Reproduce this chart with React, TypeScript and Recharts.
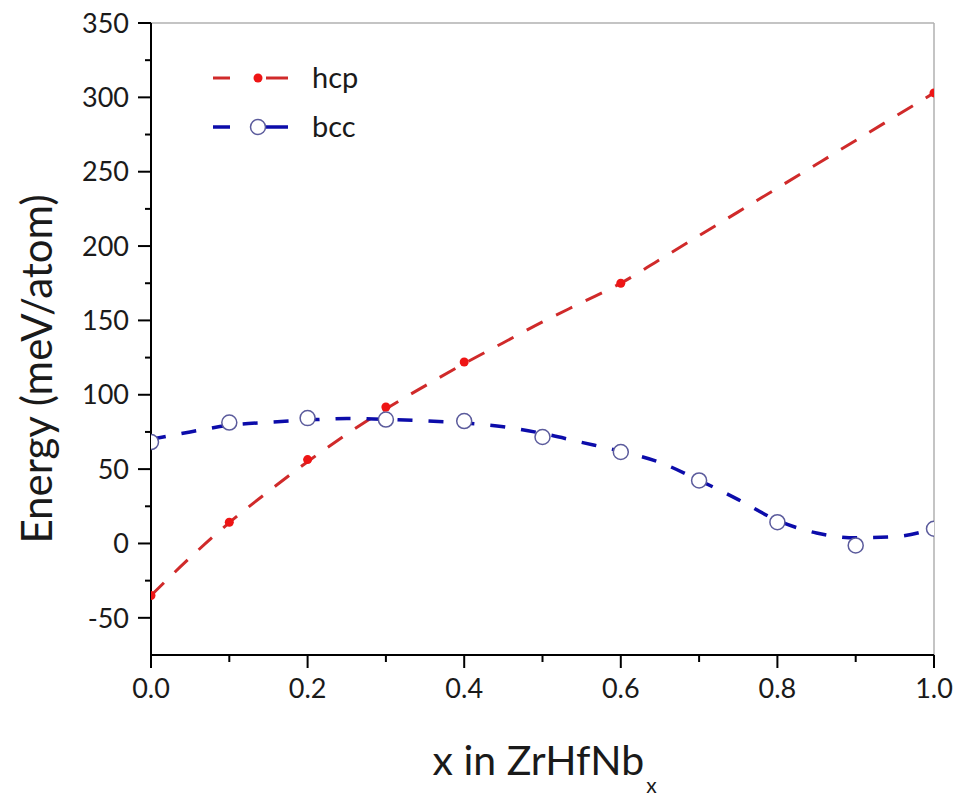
import { ComposedChart, Line, Scatter, XAxis, YAxis, ReferenceLine } from 'recharts';

// fitted curves, every 0.05
const FIT_X = [0, 0.05, 0.1, 0.15, 0.2, 0.25, 0.3, 0.35, 0.4, 0.45, 0.5, 0.55, 0.6, 0.65, 0.7, 0.75, 0.8, 0.85, 0.9, 0.95, 1.0];
const HCP_FIT = [-35, -9.5, 14, 35, 55, 73.5, 90.5, 106, 121, 135, 149, 162, 175, 191, 207, 223, 239, 255, 271, 287, 303];
const BCC_FIT = [70, 75, 79.5, 81.5, 83, 84, 83.5, 82.5, 81, 78.5, 74, 68, 62, 54.5, 42.5, 29.5, 15.5, 7, 3.8, 4.5, 10];

// calculated points
const HCP_X = [0, 0.1, 0.2, 0.3, 0.4, 0.6, 1.0];
const HCP_E = [-35, 14.3, 56.4, 91.8, 122, 175, 303];
const BCC_X = [0, 0.1, 0.2, 0.3, 0.4, 0.5, 0.6, 0.7, 0.8, 0.9, 1.0];
const BCC_E = [68.2, 81.3, 84.3, 83.3, 82.3, 71.6, 61.5, 42.4, 14.3, -1.3, 9.9];

const X_TICKS = [0, 0.1, 0.2, 0.3, 0.4, 0.5, 0.6, 0.7, 0.8, 0.9, 1.0];
const Y_TICKS = [-50, -25, 0, 25, 50, 75, 100, 125, 150, 175, 200, 225, 250, 275, 300, 325, 350];

const RED_LINE = '#d02a2a';
const RED_DOT = '#ee1515';
const BLUE_LINE = '#0c0caa';
const BLUE_RING = '#5b5b9c';
const FONT = 'Lato, "Open Sans", sans-serif';

const hcpFit = FIT_X.map((x, i) => ({ x, e: HCP_FIT[i] }));
const bccFit = FIT_X.map((x, i) => ({ x, e: BCC_FIT[i] }));
const hcpPts = HCP_X.map((x, i) => ({ x, e: HCP_E[i] }));
const bccPts = BCC_X.map((x, i) => ({ x, e: BCC_E[i] }));

function XTick(props: any) {
  const { x, y, payload } = props;
  const v = payload.value as number;
  const major = Math.round(v * 10) % 2 === 0;
  return (
    <g>
      <line x1={x} x2={x} y1={y} y2={y + (major ? 13 : 7)} stroke="#000" strokeWidth={2} />
      {major && (
        <text x={x} y={y + 43} textAnchor="middle" fontSize={27} fill="#1a1a1a" fontFamily={FONT}>
          {v.toFixed(1)}
        </text>
      )}
    </g>
  );
}

function YTick(props: any) {
  const { x, y, payload } = props;
  const v = payload.value as number;
  const major = v % 50 === 0;
  return (
    <g>
      <line x1={x} x2={x - (major ? 13 : 6)} y1={y} y2={y} stroke="#000" strokeWidth={2} />
      {major && (
        <text x={x - 22} y={y} dy="0.36em" textAnchor="end" fontSize={27} fill="#1a1a1a" fontFamily={FONT}>
          {v}
        </text>
      )}
    </g>
  );
}

function YLabel(props: any) {
  const vb = props.viewBox;
  const cx = vb.x + 1;
  const cy = vb.y + vb.height / 2 + 30;
  return (
    <text x={cx} y={cy} transform={`rotate(-90 ${cx} ${cy})`} textAnchor="middle"
      fontSize={42} fill="#1a1a1a" fontFamily={FONT}>
      Energy (meV/atom)
    </text>
  );
}

function XLabel(props: any) {
  const vb = props.viewBox;
  const cx = vb.x + vb.width / 2;
  return (
    <text x={cx - 110} y={vb.y + 120} textAnchor="start" fontSize={41} fill="#1a1a1a" fontFamily={FONT}>
      <tspan>x in ZrHfNb</tspan>
      <tspan dy={18} dx={2} fontSize={21}>x</tspan>
    </text>
  );
}

function LegendBox() {
  const rows = [
    { name: 'hcp', stroke: RED_LINE, width: 3, y: 23 },
    { name: 'bcc', stroke: BLUE_LINE, width: 3.5, y: 72 },
  ];
  return (
    <svg width={180} height={100} style={{ display: 'block' }}>
      {rows.map(r => (
        <g key={r.name}>
          <line x1={8} x2={25} y1={r.y} y2={r.y} stroke={r.stroke} strokeWidth={r.width} />
          <line x1={61} x2={83} y1={r.y} y2={r.y} stroke={r.stroke} strokeWidth={r.width} />
          {r.name === 'hcp'
            ? <circle cx={53} cy={r.y} r={4.5} fill={RED_DOT} />
            : <circle cx={53} cy={r.y} r={7.5} fill="#fff" stroke={BLUE_RING} strokeWidth={1.5} />}
          <text x={107} y={r.y} dy="0.36em" fontSize={29} fill="#1a1a1a" fontFamily={FONT}>{r.name}</text>
        </g>
      ))}
    </svg>
  );
}

export default function App() {
  return (
    <div style={{ width: 965, height: 796, position: 'relative', marginTop: -8, fontFamily: FONT }}>
      <ComposedChart width={965} height={796} margin={{ top: 23, right: 39, left: 43, bottom: 81 }}>
        <XAxis
          type="number"
          dataKey="x"
          domain={[0, 1]}
          ticks={X_TICKS}
          allowDataOverflow
          height={60}
          tickSize={0}
          tickMargin={0}
          tickLine={false}
          tick={<XTick />}
          axisLine={{ stroke: '#000', strokeWidth: 2 }}
          label={{ content: <XLabel /> }}
        />
        <YAxis
          type="number"
          dataKey="e"
          domain={[-75, 350]}
          ticks={Y_TICKS}
          allowDataOverflow
          width={100}
          tickSize={0}
          tickMargin={0}
          tickLine={false}
          tick={<YTick />}
          axisLine={{ stroke: '#000', strokeWidth: 2 }}
          label={{ content: <YLabel /> }}
        />
        <ReferenceLine y={350} stroke="#b0b0b0" strokeWidth={1.5} />
        <ReferenceLine x={1} stroke="#b0b0b0" strokeWidth={1.5} />
        <Line data={hcpFit} dataKey="e" type="monotone" stroke={RED_LINE} strokeWidth={3}
          strokeDasharray="18 15" dot={false} activeDot={false} isAnimationActive={false} />
        <Line data={bccFit} dataKey="e" type="monotone" stroke={BLUE_LINE} strokeWidth={3.5}
          strokeDasharray="15 16" dot={false} activeDot={false} isAnimationActive={false} />
        <Scatter data={bccPts} dataKey="e" isAnimationActive={false}
          shape={(p: any) => <circle cx={p.cx} cy={p.cy} r={7.5} fill="#fff" stroke={BLUE_RING} strokeWidth={1.5} />} />
        <Scatter data={hcpPts} dataKey="e" isAnimationActive={false}
          shape={(p: any) => <circle cx={p.cx} cy={p.cy} r={4.5} fill={RED_DOT} />} />
      </ComposedChart>
      <div style={{ position: 'absolute', left: 197, top: 55 }}>
        <LegendBox />
      </div>
    </div>
  );
}
